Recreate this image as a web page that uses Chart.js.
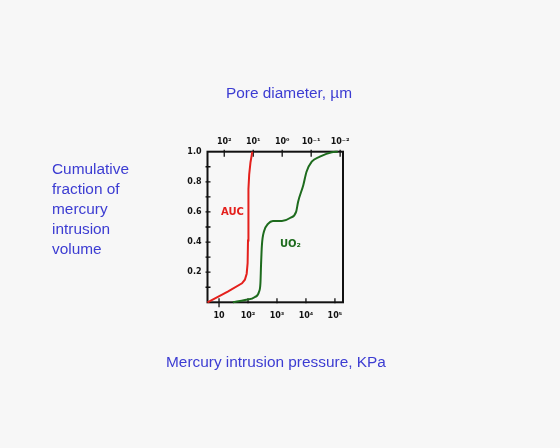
<!DOCTYPE html>
<html>
<head>
<meta charset="utf-8">
<script src="https://cdn.jsdelivr.net/npm/chart.js@4.4.1/dist/chart.umd.min.js"></script>
<style>
  body { margin: 0; background: #f7f7f7; }
  #wrap { position: relative; width: 560px; height: 448px; }
  canvas { position: absolute; left: 0; top: 0; }
  .lbl { position: absolute; color: #3c3cd2; font: 15.4px "Liberation Sans", Arial, sans-serif; white-space: nowrap; }
</style>
</head>
<body>
<div id="wrap">
  <canvas id="c" width="560" height="448"></canvas>
  <div class="lbl" style="left:226px; top:84px;">Pore diameter, µm</div>
  <div class="lbl" style="left:52px; top:159px; line-height:20px;">Cumulative<br>fraction of<br>mercury<br>intrusion<br>volume</div>
  <div class="lbl" style="left:166px; top:353px;">Mercury intrusion pressure, KPa</div>
</div>
<script>
// curva AUC (rossa): pressione KPa / frazione cumulativa
const aucPressure = [4, 20, 62, 78, 90, 97, 100, 102, 105, 110, 122, 141];
const aucFraction = [0, 0.071, 0.126, 0.15, 0.19, 0.26, 0.41, 0.61, 0.75, 0.85, 0.93, 1.0];

// curva UO2 (verde)
const uo2Pressure = [30, 79, 174, 240, 269, 282, 302, 355, 490, 724, 1480, 2818, 4570, 5370, 8130, 10470, 15850, 30200, 77600, 126000];
const uo2Fraction = [0, 0.015, 0.035, 0.07, 0.13, 0.25, 0.38, 0.47, 0.52, 0.54, 0.54, 0.56, 0.60, 0.668, 0.779, 0.867, 0.934, 0.967, 0.997, 1.0];

// assi
const pressureTicks = [10, 100, 1000, 10000, 100000];
const pressureLabels = ["10", "10²", "10³", "10⁴", "10⁵"];
const diameterTicks = [100, 10, 1, 0.1, 0.01];
const diameterLabels = ["10²", "10¹", "10⁰", "10⁻¹", "10⁻²"];
const fractionTicks = [0.2, 0.4, 0.6, 0.8, 1.0];
const fractionLabels = ["0.2", "0.4", "0.6", "0.8", "1.0"];
const fractionMinorTicks = [0.1, 0.2, 0.3, 0.4, 0.5, 0.6, 0.7, 0.8, 0.9];

// etichette delle curve
const curveNames = ["AUC", "UO₂"];
const curveLabelPressure = [29, 2925];
const curveLabelFraction = [0.60, 0.385];

const pressureMin = 4, pressureMax = 190000;
const washburnC = 1514; // d = C / P
const red = "#e4201c", green = "#1d6b1d";

const toPoints = (xs, ys) => xs.map((x, i) => ({ x: x, y: ys[i] }));

const frame = {
  id: 'frame',
  beforeDatasetsDraw(chart) {
    const ctx = chart.ctx, a = chart.chartArea;
    const y = chart.scales.y, x = chart.scales.x, x2 = chart.scales.x2;
    ctx.save();
    ctx.strokeStyle = "#111";
    ctx.lineWidth = 2;
    ctx.strokeRect(a.left, a.top, a.right - a.left, a.bottom - a.top);
    ctx.lineWidth = 1.3;
    ctx.beginPath();
    fractionMinorTicks.forEach(v => {
      const py = y.getPixelForValue(v);
      ctx.moveTo(a.left - 2, py); ctx.lineTo(a.left + 3, py);
    });
    pressureTicks.forEach((v, i) => {
      const px = x.getPixelForValue(v);
      ctx.moveTo(px, a.bottom + (i === 0 ? 5 : 1)); ctx.lineTo(px, a.bottom - 4);
    });
    diameterTicks.forEach(v => {
      const px = x2.getPixelForValue(v);
      ctx.moveTo(px, a.top - 2); ctx.lineTo(px, a.top + 5);
    });
    ctx.stroke();
    ctx.restore();
  },
  afterDatasetsDraw(chart) {
    const ctx = chart.ctx;
    const x = chart.scales.x, y = chart.scales.y;
    ctx.save();
    ctx.font = 'bold 10px "DejaVu Sans"';
    ctx.textAlign = 'center';
    ctx.textBaseline = 'middle';
    [red, green].forEach((col, i) => {
      ctx.fillStyle = col;
      ctx.fillText(curveNames[i], x.getPixelForValue(curveLabelPressure[i]), y.getPixelForValue(curveLabelFraction[i]));
    });
    ctx.restore();
  }
};

const tickFont = { family: 'DejaVu Sans', size: 8, weight: 'bold' };

new Chart(document.getElementById('c'), {
  type: 'line',
  data: {
    datasets: [
      { label: 'AUC', data: toPoints(aucPressure, aucFraction), borderColor: red, borderWidth: 2, pointRadius: 0, tension: 0, clip: false },
      { label: 'UO2', data: toPoints(uo2Pressure, uo2Fraction), borderColor: green, borderWidth: 2, pointRadius: 0, cubicInterpolationMode: 'monotone', clip: false }
    ]
  },
  options: {
    responsive: false,
    animation: false,
    layout: { padding: { left: 0, right: 217, top: 0, bottom: 0 } },
    plugins: { legend: { display: false }, tooltip: { enabled: false } },
    scales: {
      x: {
        type: 'logarithmic', position: 'bottom', min: pressureMin, max: pressureMax,
        afterFit(s) { s.height = 145.7; },
        afterBuildTicks(s) { s.ticks = pressureTicks.map(v => ({ value: v })); },
        grid: { display: false, drawTicks: false },
        border: { display: false },
        ticks: { color: '#111', font: tickFont, padding: 9, maxRotation: 0, autoSkip: false,
          callback: (v, i) => pressureLabels[i] }
      },
      x2: {
        type: 'logarithmic', position: 'top', reverse: true,
        min: washburnC / pressureMax, max: washburnC / pressureMin,
        afterFit(s) { s.height = 151.7; },
        afterBuildTicks(s) { s.ticks = diameterTicks.map(v => ({ value: v })); },
        grid: { display: false, drawTicks: false },
        border: { display: false },
        ticks: { color: '#111', font: tickFont, padding: 5, maxRotation: 0, autoSkip: false,
          callback: (v, i) => diameterLabels[i] }
      },
      y: {
        type: 'linear', min: 0, max: 1,
        afterFit(s) { s.width = 207.5; },
        afterBuildTicks(s) { s.ticks = fractionTicks.map(v => ({ value: v })); },
        grid: { display: false, drawTicks: false },
        border: { display: false },
        ticks: { color: '#111', font: tickFont, padding: 6, autoSkip: false,
          callback: (v, i) => fractionLabels[i] }
      }
    }
  },
  plugins: [frame]
});
</script>
</body>
</html>
